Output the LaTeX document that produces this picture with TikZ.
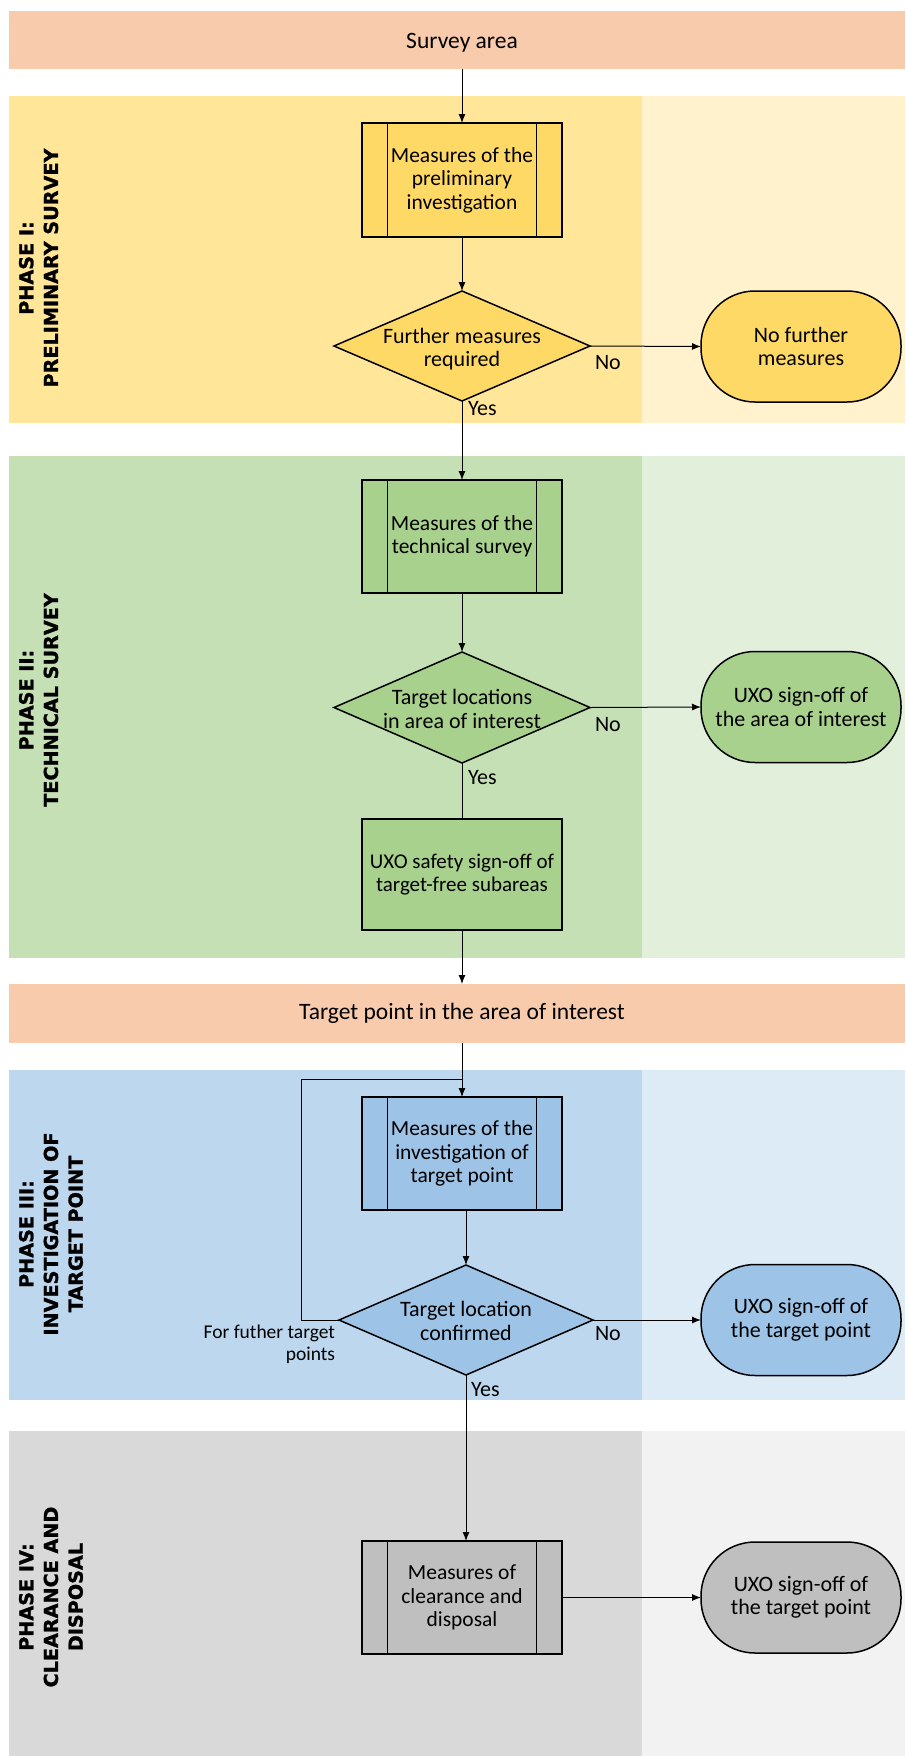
\documentclass[tikz,border=0pt]{standalone}
\usepackage{fontspec}
\setmainfont{Carlito}
\newfontfamily\phasefont{DejaVu Sans}[BoldFeatures={FakeBold=1.2}]
\usetikzlibrary{shapes.geometric,arrows.meta,calc}
\definecolor{band}{HTML}{F8CBAD}
\definecolor{yl}{HTML}{FFE699}
\definecolor{yr}{HTML}{FFF2CC}
\definecolor{yf}{HTML}{FFD966}
\definecolor{gl}{HTML}{C5E0B4}
\definecolor{gr}{HTML}{E2EFDA}
\definecolor{gf}{HTML}{A9D18E}
\definecolor{bl}{HTML}{BDD7EE}
\definecolor{br}{HTML}{DDEBF7}
\definecolor{bf}{HTML}{9DC3E6}
\definecolor{kl}{HTML}{D9D9D9}
\definecolor{kr}{HTML}{F2F2F2}
\definecolor{kf}{HTML}{BFBFBF}
\begin{document}
\begin{tikzpicture}[x=1pt,y=-1pt,
  every node/.style={inner sep=0pt, outer sep=0pt, font=\fontsize{22}{23.5}\selectfont},
  proc/.style={draw, line width=1.5pt, minimum width=200pt, minimum height=113pt, align=center},
  plainbox/.style={draw, line width=1.5pt, minimum width=200pt, minimum height=111pt, align=center},
  dec/.style={draw, diamond, line width=1.5pt, minimum width=256pt, minimum height=110pt},
  term/.style={draw, line width=1.5pt, rounded corners=54pt, minimum width=200pt, minimum height=111pt, align=center},
  conn/.style={line width=1pt},
  arr/.style={conn, -{Latex[length=9pt,width=7pt]}},
  phase/.style={rotate=90, anchor=north, align=center, font=\phasefont\bfseries\fontsize{19.2}{24.7}\selectfont},
  lbl/.style={anchor=west},
  bandbox/.style={fill=band, minimum width=896pt, minimum height=58pt},
  boxfont/.style={font=\fontsize{21.5}{23.5}\selectfont},
]
\useasboundingbox (0,0) rectangle (905,1756);
% phase backgrounds
\fill[yl] (9,96) rectangle (642,423);
\fill[yr] (642,96) rectangle (905,423);
\fill[gl] (9,456) rectangle (642,958);
\fill[gr] (642,456) rectangle (905,958);
\fill[bl] (9,1070) rectangle (642,1400);
\fill[br] (642,1070) rectangle (905,1400);
\fill[kl] (9,1431) rectangle (642,1756);
\fill[kr] (642,1431) rectangle (905,1756);
% bands
\node[bandbox] (sa) at (457,40) {};
\node[font=\fontsize{23.5}{25}\selectfont] (satext) at (462,43) {Survey area};
\node[bandbox, minimum height=59pt] (tp) at (457,1013.5) {};
\node[font=\fontsize{23.5}{25}\selectfont] (tptext) at (462,1013) {Target point in the area of interest};
% phase labels
\node[phase] (ph1) at (19,268) {PHASE I:\\PRELIMINARY SURVEY};
\node[phase] (ph2) at (19,700) {PHASE II:\\TECHNICAL SURVEY};
\node[phase] (ph3) at (19,1234) {PHASE III:\\INVESTIGATION OF\\TARGET POINT};
\node[phase] (ph4) at (19,1597) {PHASE IV:\\CLEARANCE AND\\DISPOSAL};
% phase I
\node[proc, boxfont, fill=yf, minimum height=114pt] (b1) at (462,180) {Measures of the\\preliminary\\investigation};
\node[dec, fill=yf] (d1) at (462,346) {};
\node[align=center] (d1t) at (462,349) {Further measures\\required};
\node[term, fill=yf] (t1) at (801,346.5) {No further\\measures};
% phase II
\node[proc, boxfont, fill=gf] (b2) at (462,536.5) {Measures of the\\technical survey};
\node[dec, fill=gf, minimum height=111pt] (d2) at (462,707.5) {};
\node[align=center] (d2t) at (462,709) {Target locations\\in area of interest};
\node[term, fill=gf] (t2) at (801,707) {UXO sign-off of\\the area of interest};
\node[plainbox, fill=gf, font=\fontsize{21}{23.5}\selectfont] (b3) at (462,874.5) {UXO safety sign-off of\\target-free subareas};
% phase III
\node[proc, boxfont, fill=bf] (b4) at (462,1153.5) {Measures of the\\investigation of\\target point};
\node[dec, fill=bf, minimum width=254pt] (d3) at (466,1320) {};
\node[align=center] (d3t) at (466,1321) {Target location\\confirmed};
\node[term, fill=bf] (t3) at (801,1320) {UXO sign-off of\\the target point};
% phase IV
\node[proc, boxfont, fill=kf] (b5) at (462,1597.5) {Measures of\\clearance and\\disposal};
\node[term, fill=kf] (t4) at (801,1597.5) {UXO sign-off of\\the target point};
% inner lines of process boxes
\foreach \n in {b1,b2,b4,b5}{
  \draw[line width=1.5pt] ($(\n.north west)+(25.5,0)$) -- ($(\n.south west)+(25.5,0)$);
  \draw[line width=1.5pt] ($(\n.north east)+(-25.5,0)$) -- ($(\n.south east)+(-25.5,0)$);
}
% connectors
\draw[arr] (sa.south -| b1.north) -- (b1.north);
\draw[arr] (b1.south) -- (d1.north);
\draw[arr] (d1.east) -- (t1.west);
\draw[arr] (d1.south) -- (b2.north);
\draw[arr] (b2.south) -- (d2.north);
\draw[arr] (d2.east) -- (t2.west);
\draw[conn] (d2.south) -- (b3.north);
\draw[arr] (b3.south) -- (b3.south |- tp.north);
\draw[arr] (tp.south -| b4.north) -- (b4.north);
\coordinate (lp) at (301,1079);
\draw[conn] (d3.west) -| (lp) -- (lp -| b4.north);
\draw[arr] (b4.south -| d3.north) -- (d3.north);
\draw[arr] (d3.east) -- (d3.east -| t3.west);
\draw[arr] (d3.south) -- (d3.south |- b5.north);
\draw[arr] (b5.east) -- (t4.west);
% labels
\node[lbl] (no1) at (595,363) {No};
\node[lbl] (yes1) at (468,409) {Yes};
\node[lbl] (no2) at (595,725) {No};
\node[lbl] (yes2) at (468,778) {Yes};
\node[lbl] (no3) at (595,1334) {No};
\node[lbl] (yes3) at (471,1390) {Yes};
\node[anchor=east, align=right, font=\fontsize{19.5}{22}\selectfont] (fft) at (335,1344) {For futher target\\points};
\end{tikzpicture}
\end{document}
